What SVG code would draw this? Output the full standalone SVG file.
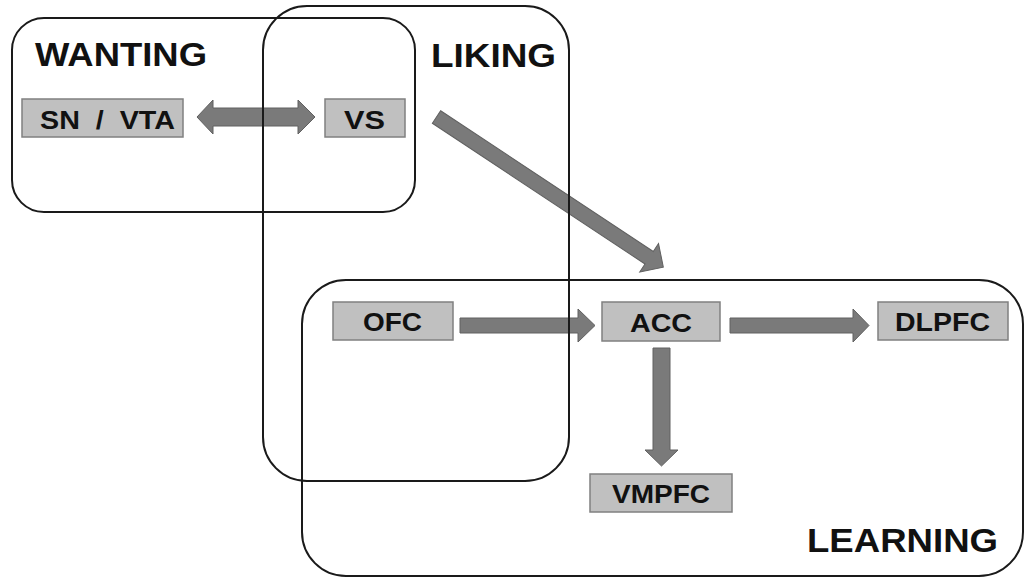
<svg xmlns="http://www.w3.org/2000/svg" width="1025" height="578" viewBox="0 0 1025 578">
<style>
.region{fill:none;stroke:#1a1a1a;stroke-width:2}
.box{fill:#c0c0c0;stroke:#808080;stroke-width:1.5}
.arrow{fill:#7a7a7a;stroke:#606060;stroke-width:1}
.lbl{font-family:"Liberation Sans",Arial,sans-serif;font-weight:bold;font-size:26px;fill:#111;white-space:pre}
.title{font-family:"Liberation Sans",Arial,sans-serif;font-weight:bold;font-size:33px;fill:#111}
</style>
<rect width="1025" height="578" fill="#fff"/>
<g id="connectors">
  <polygon class="arrow" points="197,117 213,100 213,108 298,108 298,100 315,117 298,134 298,126 213,126 213,134"/>
  <g transform="translate(436.5,117) rotate(33.5)">
    <polygon class="arrow" points="0,-7.5 255,-7.5 255,-17 272,0 255,17 255,7.5 0,7.5"/>
  </g>
  <polygon class="arrow" points="460,318 578,318 578,309 595,325.5 578,342 578,333 460,333"/>
  <polygon class="arrow" points="730,318 853,318 853,309 869,325.5 853,342 853,333 730,333"/>
  <polygon class="arrow" points="653,348 670,348 670,450 678,450 661.5,466 645,450 653,450"/>
</g>
<g id="node-snvta">
  <rect class="box" x="22" y="99" width="161" height="38"/>
  <text class="lbl" x="40" y="129" textLength="135" lengthAdjust="spacingAndGlyphs">SN  /  VTA</text>
</g>
<g id="node-vs">
  <rect class="box" x="325" y="99" width="80" height="38"/>
  <text class="lbl" x="344" y="129" textLength="41" lengthAdjust="spacingAndGlyphs">VS</text>
</g>
<g id="node-ofc">
  <rect class="box" x="333" y="302" width="120" height="38"/>
  <text class="lbl" x="363" y="331" textLength="59" lengthAdjust="spacingAndGlyphs">OFC</text>
</g>
<g id="node-acc">
  <rect class="box" x="602" y="302" width="118" height="39"/>
  <text class="lbl" x="630" y="332" textLength="62" lengthAdjust="spacingAndGlyphs">ACC</text>
</g>
<g id="node-dlpfc">
  <rect class="box" x="878" y="302" width="130" height="38"/>
  <text class="lbl" x="895" y="331" textLength="95" lengthAdjust="spacingAndGlyphs">DLPFC</text>
</g>
<g id="node-vmpfc">
  <rect class="box" x="590" y="474" width="142" height="38"/>
  <text class="lbl" x="612" y="503" textLength="98" lengthAdjust="spacingAndGlyphs">VMPFC</text>
</g>
<g id="region-wanting">
  <rect class="region" x="12" y="18" width="403" height="194" rx="32" ry="32"/>
  <text class="title" x="35" y="66" textLength="172" lengthAdjust="spacingAndGlyphs">WANTING</text>
</g>
<g id="region-liking">
  <rect class="region" x="263" y="6" width="306" height="475" rx="44" ry="44"/>
  <text class="title" x="431" y="67" textLength="125" lengthAdjust="spacingAndGlyphs">LIKING</text>
</g>
<g id="region-learning">
  <rect class="region" x="302" y="280" width="721" height="296" rx="44" ry="44"/>
  <text class="title" x="807" y="552" textLength="191" lengthAdjust="spacingAndGlyphs">LEARNING</text>
</g>
</svg>
